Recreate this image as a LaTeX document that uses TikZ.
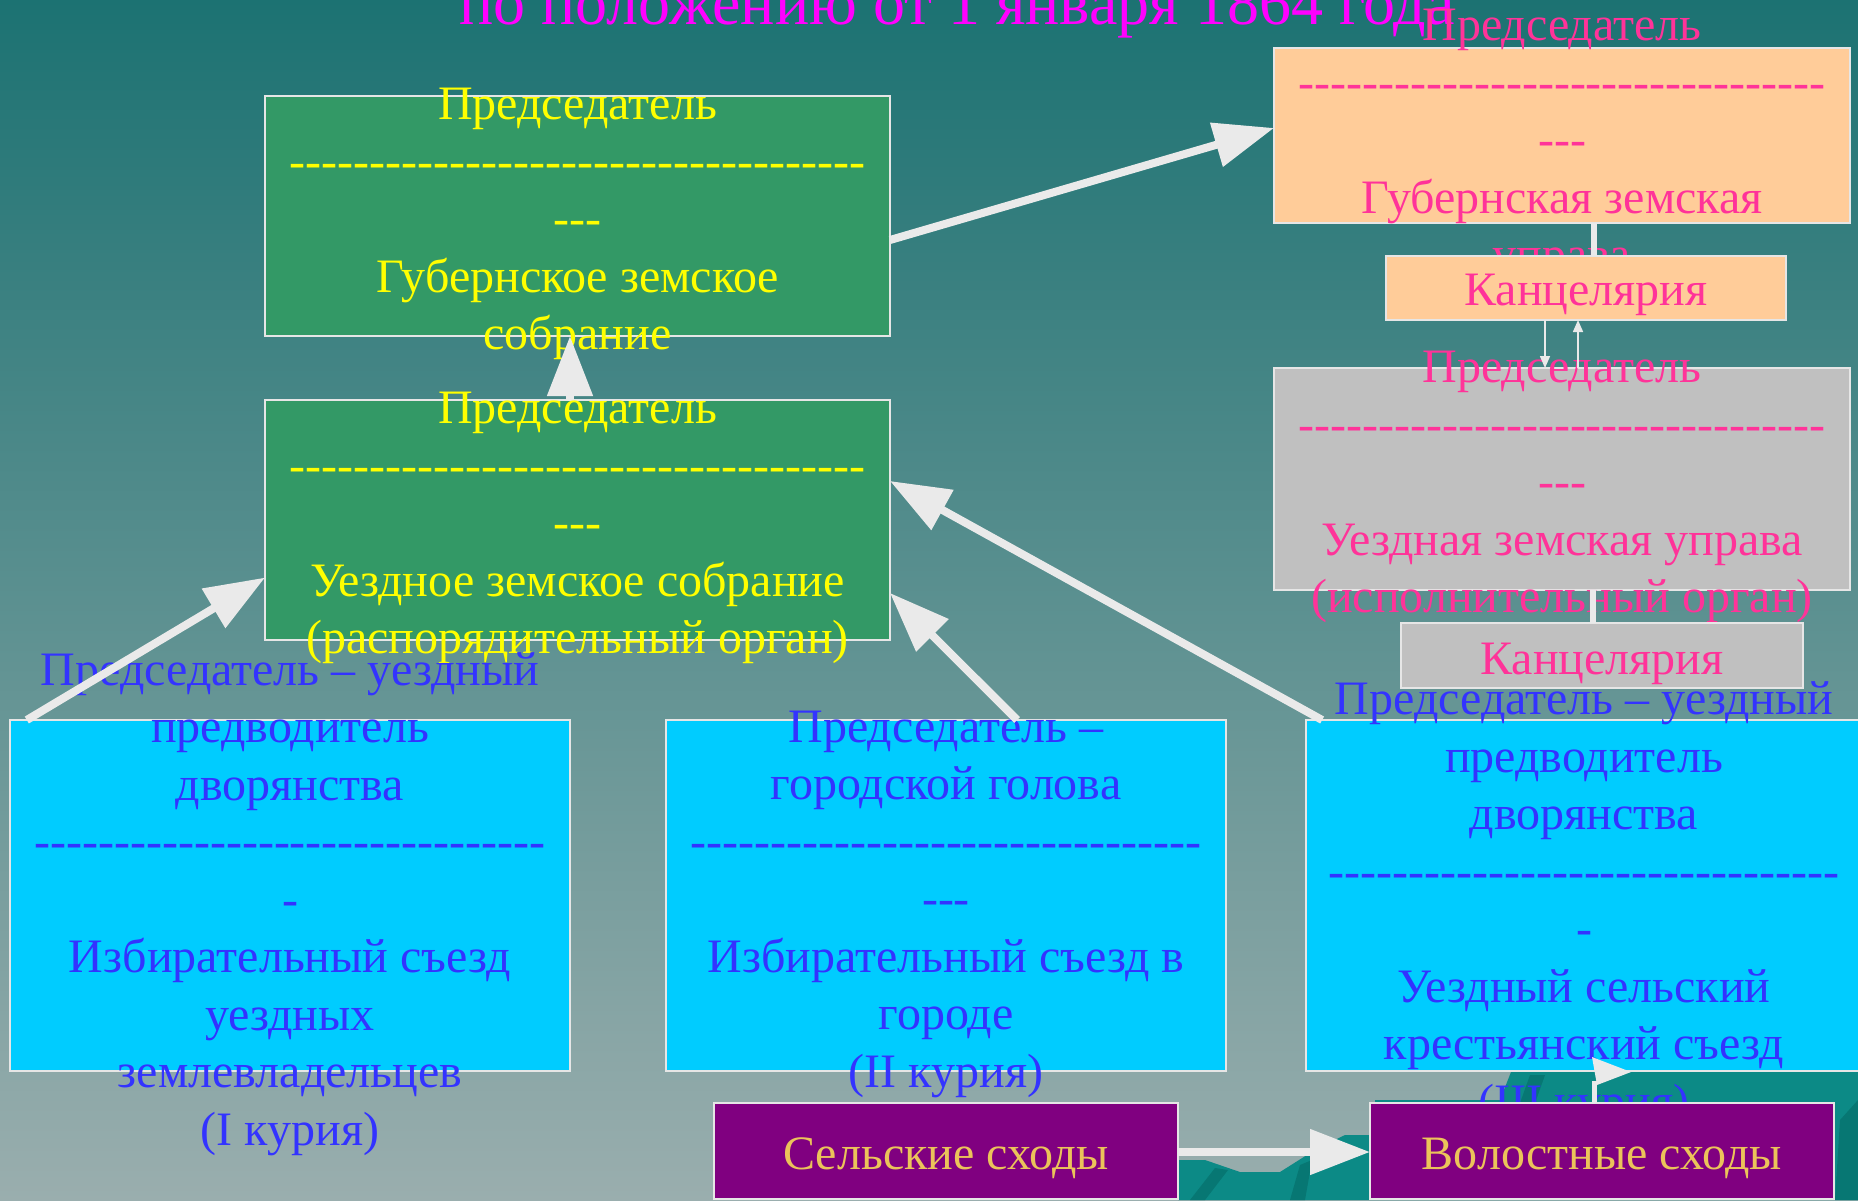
\documentclass[tikz,border=0pt]{standalone}
\usepackage{fontspec}
\newfontfamily\mainf{Liberation Serif}
\usetikzlibrary{arrows.meta,calc}
\ExplSyntaxOn
\NewDocumentCommand\hyph{m}{\prg_replicate:nn{#1}{-\kern0pt}}
\ExplSyntaxOff
\definecolor{bgtop}{HTML}{1C7272}
\definecolor{bgbot}{HTML}{9AAEAE}
\definecolor{tealA}{HTML}{0C8A86}
\definecolor{tealB}{HTML}{077773}
\definecolor{gbox}{HTML}{339966}
\definecolor{pbox}{HTML}{FFCC99}
\definecolor{sbox}{HTML}{C0C0C0}
\definecolor{cbox}{HTML}{00CCFF}
\definecolor{vbox}{HTML}{800080}
\definecolor{edge}{HTML}{E6E6E6}
\definecolor{arr}{HTML}{EAEAEA}
\definecolor{tyel}{HTML}{FFFF00}
\definecolor{tpink}{HTML}{FF3399}
\definecolor{tblue}{HTML}{3333FF}
\definecolor{tgold}{HTML}{EBC35A}
\definecolor{tmag}{HTML}{FF00FF}
\tikzset{
  box/.style={draw=edge, line width=1pt, inner sep=0pt, outer sep=0pt},
  txt/.style={font=\mainf\fontsize{24}{28.75}\selectfont, align=center, inner sep=0pt},
  bigarrow/.style={draw=arr, line width=4pt, -{Triangle[length=30pt,width=22pt]}},
  conn/.style={draw=arr, line width=3pt},
  thinarrow/.style={draw=arr, line width=0.8pt, -{Triangle[length=6pt,width=5pt]}},
}
\begin{document}
\begin{tikzpicture}[x=0.5pt,y=-0.5pt]
\useasboundingbox (0,0) rectangle (1858,1200);
\clip (0,0) rectangle (1858,1200);
% background
\fill[top color=bgtop, bottom color=bgbot] (0,0) rectangle (1858,1200);
\fill[tealA] (1178,1160) -- (1205,1160) -- (1240,1172) -- (1280,1172) -- (1318,1148) -- (1345,1135) -- (1375,1135) -- (1375,1100) -- (1500,1100) -- (1511,1072) -- (1860,1072) -- (1860,1200) -- (1178,1200) -- cycle;
\fill[tealB] (1190,1200) -- (1215,1168) -- (1228,1170) -- (1205,1200) -- cycle;
\fill[tealB] (1290,1200) -- (1300,1165) -- (1312,1160) -- (1305,1200) -- cycle;
\fill[tealB] (1835,1200) -- (1840,1120) -- (1858,1100) -- (1858,1200) -- cycle;
\fill[tealB] (1520,1103) -- (1530,1075) -- (1545,1075) -- (1535,1103) -- cycle;
% title
\node[font=\mainf\fontsize{32}{38}\selectfont, text=tmag, anchor=base, inner sep=0pt] (title) at (957,24) {по положению от 1 января 1864 года};
% upper boxes
\node[box, fill=gbox, minimum width=312.5pt, minimum height=120pt] (A) at (577.5,216) {};
\node[txt, text=tyel] (At) at (577.5,224) {Председатель\\\hyph{36}\\\hyph{3}\\Губернское земское\\собрание};
\node[box, fill=gbox, minimum width=312.5pt, minimum height=120pt] (B) at (577.5,520) {};
\node[txt, text=tyel] (Bt) at (577.5,528) {Председатель\\\hyph{36}\\\hyph{3}\\Уездное земское собрание\\(распорядительный орган)};
\node[box, fill=pbox, minimum width=288pt, minimum height=87.5pt] (C) at (1562,135.5) {};
\node[txt, text=tpink] (Ct) at (1562,145) {Председатель\\\hyph{33}\\\hyph{3}\\Губернская земская\\управа};
\node[box, fill=sbox, minimum width=288pt, minimum height=111pt] (D) at (1562,479) {};
\node[txt, text=tpink] (Dt) at (1562,487) {Председатель\\\hyph{33}\\\hyph{3}\\Уездная земская управа\\(исполнительный орган)};
% arrows between upper boxes
\draw[bigarrow] ($(A.north east)!0.6!(A.south east)$) -- ($(C.north west)!0.457!(C.south west)$);
\draw[bigarrow] ([xshift=-3.75pt]B.north) -- ([xshift=-3.75pt]A.south);
% chancelleries
\node[box, fill=pbox, minimum width=200pt, minimum height=32pt] (KP) at (1586,288) {};
\node[txt, text=tpink] (KPt) at ([yshift=-3.5pt]KP.center) {Канцелярия};
\draw[conn] ([xshift=16pt]C.south) -- ([xshift=4pt]KP.north);
\draw[thinarrow] ([xshift=-20.5pt]KP.south) -- ([xshift=-8.5pt]D.north);
\draw[thinarrow] ([xshift=8pt]D.north) -- ([xshift=-4pt]KP.south);
\node[box, fill=sbox, minimum width=201pt, minimum height=32.5pt] (KG) at (1602,655.5) {};
\node[txt, text=tpink] (KGt) at ([yshift=-4pt]KG.center) {Канцелярия};
\draw[conn] ([xshift=15.5pt]D.south) -- ([xshift=-4.5pt]KG.north);
% curiae
\node[box, fill=cbox, minimum width=280pt, minimum height=175.5pt] (E) at (290,895.5) {};
\node[txt, text=tblue] (Et) at (290,904) {Председатель – уездный\\предводитель\\дворянства\\\hyph{32}\\\hyph{1}\\Избирательный съезд\\уездных\\землевладельцев\\(I курия)};
\node[box, fill=cbox, minimum width=280pt, minimum height=175.5pt] (F) at (946,895.5) {};
\node[txt, text=tblue] (Ft) at (946,904) {Председатель –\\городской голова\\\hyph{32}\\\hyph{3}\\Избирательный съезд в\\городе\\(II курия)};
\node[box, fill=cbox, minimum width=278pt, minimum height=175.5pt] (G) at (1584,895.5) {};
\node[txt, text=tblue] (Gt) at (1584,904.5) {Председатель – уездный\\предводитель\\дворянства\\\hyph{32}\\\hyph{1}\\Уездный сельский\\крестьянский съезд\\(III курия)};
\draw[bigarrow] ($(E.north west)!0.03!(E.north east)$) -- ($(B.north west)!0.74!(B.south west)$);
\draw[bigarrow] ($(F.north west)!0.627!(F.north east)$) -- ($(B.north east)!0.804!(B.south east)$);
\draw[bigarrow] ($(G.north west)!0.029!(G.north east)$) -- ($(B.north east)!0.3375!(B.south east)$);
% gatherings
\node[box, fill=vbox, minimum width=232pt, minimum height=48pt] (S) at (946,1151) {};
\node[txt, text=tgold] (St) at ([yshift=-3.5pt]S.center) {Сельские сходы};
\node[box, fill=vbox, minimum width=232pt, minimum height=48pt] (V) at (1602,1151) {};
\node[txt, text=tgold] (Vt) at ([yshift=-3.5pt]V.center) {Волостные сходы};
\draw[bigarrow] ([yshift=-0.5pt]S.east) -- ([yshift=-0.5pt]V.west);
\draw[draw=arr, line width=2.5pt] ([xshift=-3.75pt]V.north) -- ([xshift=-3.75pt,yshift=11pt]V.north);
\fill[arr] (1592,1057) -- (1631,1072) -- (1597,1085) -- cycle;
\end{tikzpicture}
\end{document}
